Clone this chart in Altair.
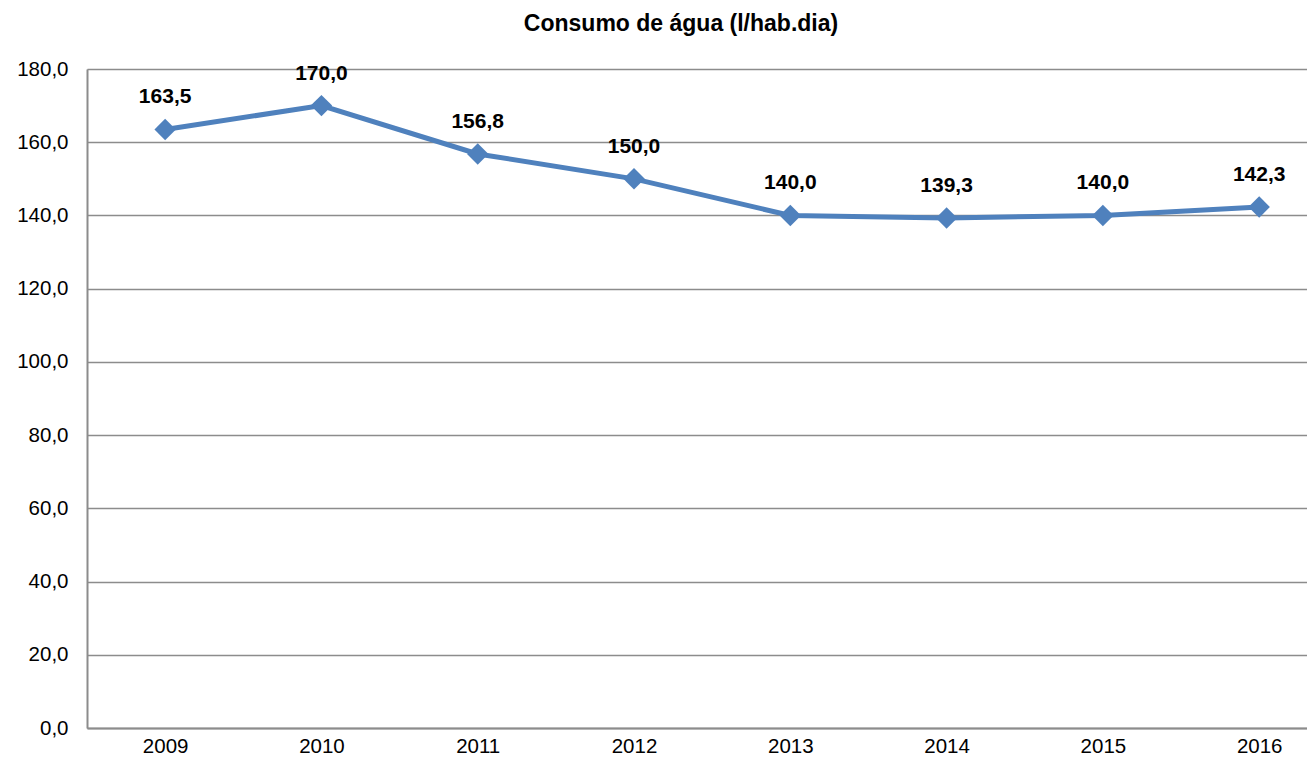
import altair as alt
import pandas as pd

years = [2009, 2010, 2011, 2012, 2013, 2014, 2015, 2016]
consumo = [163.5, 170.0, 156.8, 150.0, 140.0, 139.3, 140.0, 142.3]
y_ticks = [0, 20, 40, 60, 80, 100, 120, 140, 160, 180]

df = pd.DataFrame({"ano": years, "consumo": consumo})
df["rotulo"] = [f"{v:.1f}".replace(".", ",") for v in consumo]

FONT = "Liberation Sans"
BLUE = "#4F81BD"
GRID = "#8C8C8C"

x_enc = alt.X("ano:Q",
              scale=alt.Scale(domain=[2008.5, 2016.306], nice=False, zero=False),
              axis=alt.Axis(values=years, format="d", title=None, grid=False, ticks=False,
                            labelFont=FONT, labelFontSize=20.5, labelColor="#000000",
                            labelPadding=8, domainColor=GRID, domainWidth=2,
                            labelFlush=False))
y_enc = alt.Y("consumo:Q",
              scale=alt.Scale(domain=[0, 180], nice=False),
              axis=alt.Axis(values=y_ticks, title=None, ticks=False,
                            labelExpr="replace(format(datum.value, '.1f'), '.', ',')",
                            labelFont=FONT, labelFontSize=20.5, labelColor="#000000",
                            labelPadding=19, gridColor=GRID, gridWidth=1.5,
                            domainColor=GRID, domainWidth=2))

base = alt.Chart(df).encode(x=x_enc, y=y_enc)

line = base.mark_line(color=BLUE, strokeWidth=5)
pts = base.mark_point(shape="diamond", filled=True, size=460, color=BLUE, opacity=1)
labels = base.mark_text(font=FONT, fontSize=21, fontWeight="bold", color="#000000",
                        dy=-32, baseline="middle").encode(text="rotulo:N")

chart = alt.layer(line, pts, labels).properties(
    width=1220, height=659,
    title=alt.Title("Consumo de água (l/hab.dia)", font=FONT, fontSize=23,
                    fontWeight="bold", color="#000000", anchor="middle", dx=-16,
                    offset=23),
    autosize=alt.AutoSizeParams(type="none"),
    padding={"left": 79, "top": 61, "right": 0, "bottom": 31},
).configure_view(stroke=None).configure(background="white")

chart.save("out.html", embed_options={"renderer": "svg", "actions": False})
